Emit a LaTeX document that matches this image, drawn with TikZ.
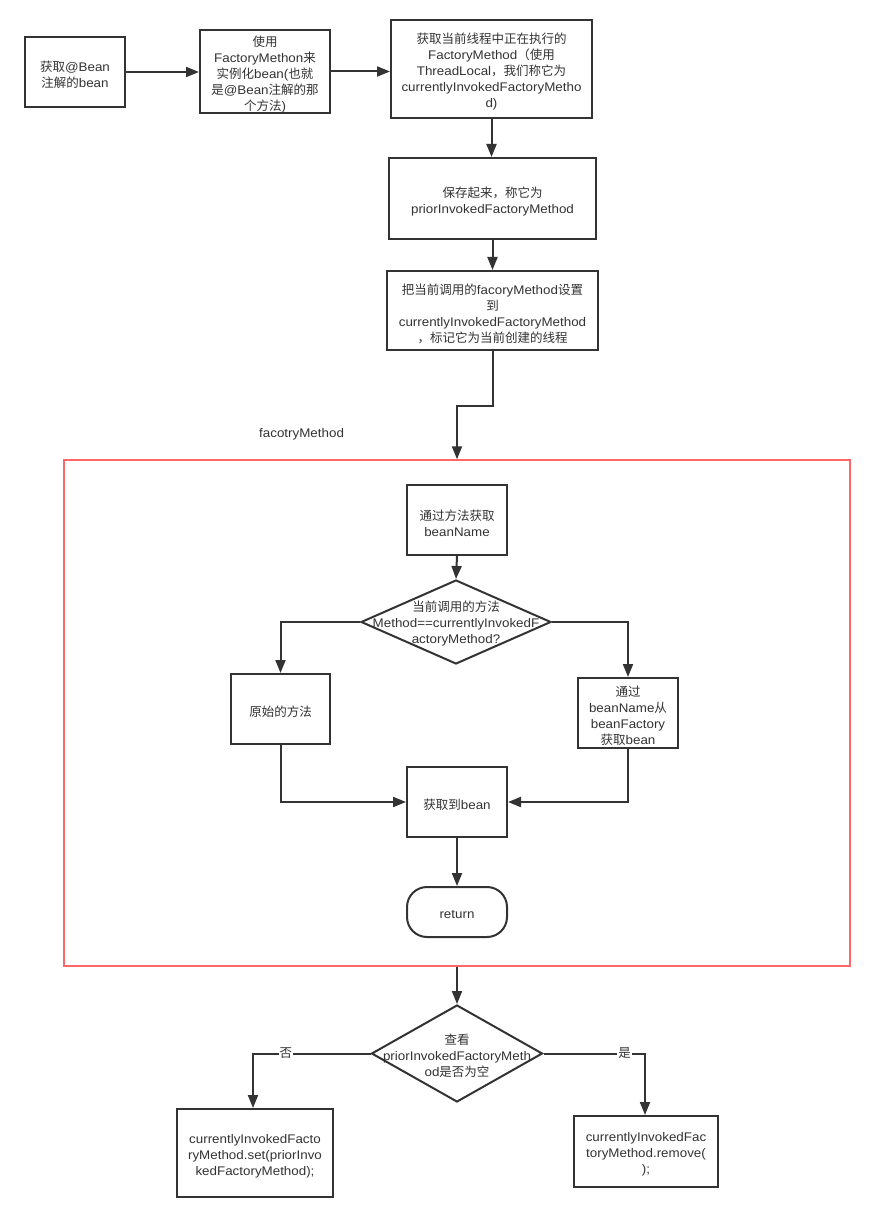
\documentclass[tikz,border=0pt]{standalone}
\usepackage{fontspec}
\setmainfont{Liberation Sans}[FakeStretch=1.07]
\newfontfamily\cjk{Noto Sans CJK SC}
\usetikzlibrary{arrows.meta,shapes.geometric}
\newcommand\zh[1]{{\cjk #1}}
\definecolor{linec}{HTML}{333333}
\definecolor{textc}{HTML}{333333}
\definecolor{framec}{HTML}{FF6666}
\begin{document}
\begin{tikzpicture}[x=1pt,y=-1pt,
  txt/.style={align=center, text=textc, font=\fontsize{12.5}{16}\selectfont, inner sep=0pt},
  T/.style={label={[txt,yshift=-3pt]center:{#1}}},
  box/.style={draw=linec, line width=2pt, fill=white, inner sep=0pt},
  diam/.style={diamond, draw=linec, line width=2pt, fill=white, inner sep=0pt},
  term/.style={draw=linec, line width=2pt, fill=white, rounded corners=20pt, inner sep=0pt},
  frame/.style={draw=framec, line width=1.5pt, inner sep=0pt},
  arr/.style={draw=linec, line width=2pt, -{Triangle[length=13pt,width=10pt]}},
  lab/.style={txt, fill=white, inner sep=1pt}
]
\useasboundingbox[fill=white] (0,0) rectangle (874,1222);

\node[box, minimum width=100, minimum height=70, T={\zh{获取}@Bean\\\zh{注解的}bean}] (A) at (75,72) {};
\node[box, minimum width=130, minimum height=83, T={\zh{使用}\\FactoryMethon\zh{来}\\\zh{实例化}bean(\zh{也就}\\\zh{是}@Bean\zh{注解的那}\\\zh{个方法})}] (B) at (265,71.5) {};
\node[box, minimum width=201, minimum height=98, T={\zh{获取当前线程中正在执行的}\\FactoryMethod\zh{（使用}\\ThreadLocal\zh{，我们称它为}\\currentlyInvokedFactoryMetho\\d)}] (C) at (491.5,69) {};
\node[box, minimum width=207, minimum height=81, T={\zh{保存起来，称它为}\\priorInvokedFactoryMethod}] (D) at (492.5,198.5) {};
\node[box, minimum width=211, minimum height=79, T={\zh{把当前调用的}facoryMethod\zh{设置}\\\zh{到}\\currentlyInvokedFactoryMethod\\\zh{，标记它为当前创建的线程}}] (E) at (492.5,310.5) {};

\node[txt, anchor=west] (lbl) at (259,434) {facotryMethod};

\node[frame, minimum width=786, minimum height=506] (R) at (457,713) {};

\node[box, minimum width=100, minimum height=70, T={\zh{通过方法获取}\\beanName}] (F) at (457,520) {};
\node[diam, minimum width=190, minimum height=84] (G) at (456,622) {};
\node[txt] (Gt) at (456,624) {\zh{当前调用的方法}\\Method==currentlyInvokedF\\actoryMethod?};
\node[box, minimum width=99, minimum height=70, T={\zh{原始的方法}}] (H) at (280.5,709) {};
\node[box, minimum width=100, minimum height=70, T={\zh{通过}\\beanName\zh{从}\\beanFactory\\\zh{获取}bean}] (I) at (628,713) {};
\node[box, minimum width=100, minimum height=70, T={\zh{获取到}bean}] (J) at (457,802) {};
\node[term, minimum width=100, minimum height=50, T={return}] (K) at (457,912) {};

\node[diam, minimum width=171, minimum height=97] (L) at (457,1053.5) {};
\node[txt] (Lt) at (457,1056) {\zh{查看}\\priorInvokedFactoryMeth\\od\zh{是否为空}};
\node[box, minimum width=156, minimum height=88, T={currentlyInvokedFacto\\ryMethod.set(priorInvo\\kedFactoryMethod);}] (M) at (255,1153) {};
\node[box, minimum width=144, minimum height=71, T={currentlyInvokedFac\\toryMethod.remove(\\);}] (N) at (646,1151.5) {};

\draw[arr] (A.east) -- (A.east -| B.west);
\draw[arr] (B.east) -- (B.east -| C.west);
\draw[arr] (C.south) -- (C.south |- D.north);
\draw[arr] (D.south) -- (D.south |- E.north);
\draw[arr] (E.south) -- ++(0,55) -| (R.north);
\draw[arr] (F.south) -- (G.north);
\draw[arr] (G.west) -| (H.north);
\draw[arr] (G.east) -| (I.north);
\draw[arr] (H.south) |- (J.west);
\draw[arr] (I.south) |- (J.east);
\draw[arr] (J.south) -- (K.north);
\draw[arr] (R.south) -- (L.north);
\draw[arr] (L.west) -| node[lab, pos=0.36] {\zh{否}} (M.north -| 253,0);
\draw[arr] (L.east) -| node[lab, pos=0.40] {\zh{是}} (N.north -| 645,0);
\end{tikzpicture}
\end{document}
